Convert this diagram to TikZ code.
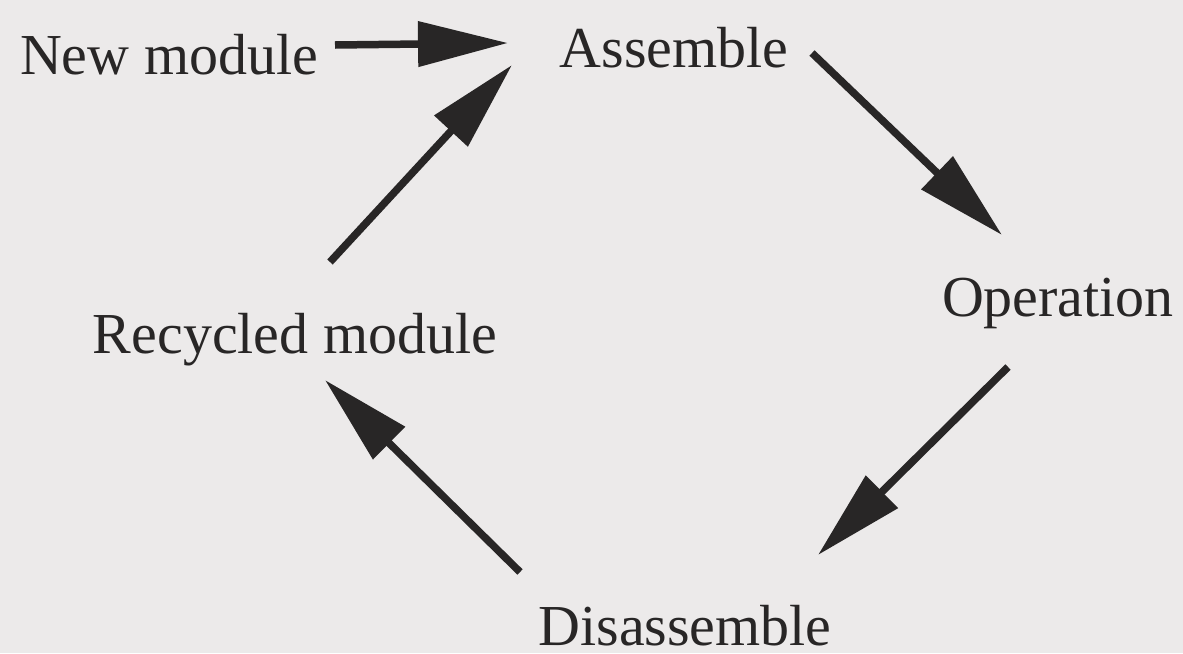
\documentclass[tikz,border=0pt]{standalone}
\usepackage{fontspec}
\setmainfont{Liberation Serif}
\usetikzlibrary{arrows.meta}
\definecolor{figBg}{HTML}{ECEAEA}
\definecolor{figInk}{HTML}{282626}

\begin{document}
\begin{tikzpicture}[x=0.02cm,y=-0.02cm,
  lbl/.style={figInk,inner sep=0pt,anchor=base,font=\fontsize{33}{40}\selectfont},
  flow/.style={figInk,line width=0.15cm,-{Triangle[length=1.8cm,width=0.88cm]}}]
\fill[figBg] (0,0) rectangle (1183,653);
\useasboundingbox (0,0) rectangle (1183,653);
\node[lbl] (new) at (169,74) {New module};
\node[lbl] (asm) at (674,67) {Assemble};
\node[lbl] (op) at (1058,316) {Operation};
\node[lbl] (rec) at (295,353) {Recycled module};
\node[lbl] (dis) at (685,645) {Disassemble};
% arrow ends
\coordinate (newOut) at (335,45);
\coordinate (asmInL) at (508,43);
\coordinate (asmInB) at (512,65);
\coordinate (asmOut) at (812,53);
\coordinate (opIn) at (1002,235);
\coordinate (opOut) at (1008,367);
\coordinate (disIn) at (818,555);
\coordinate (disOut) at (520,572);
\coordinate (recIn) at (325,380);
\coordinate (recOut) at (330,262);
\draw[flow] (newOut) -- (asmInL);
\draw[flow] (asmOut) -- (opIn);
\draw[flow] (opOut) -- (disIn);
\draw[flow] (disOut) -- (recIn);
\draw[flow] (recOut) -- (asmInB);
\end{tikzpicture}
\end{document}
